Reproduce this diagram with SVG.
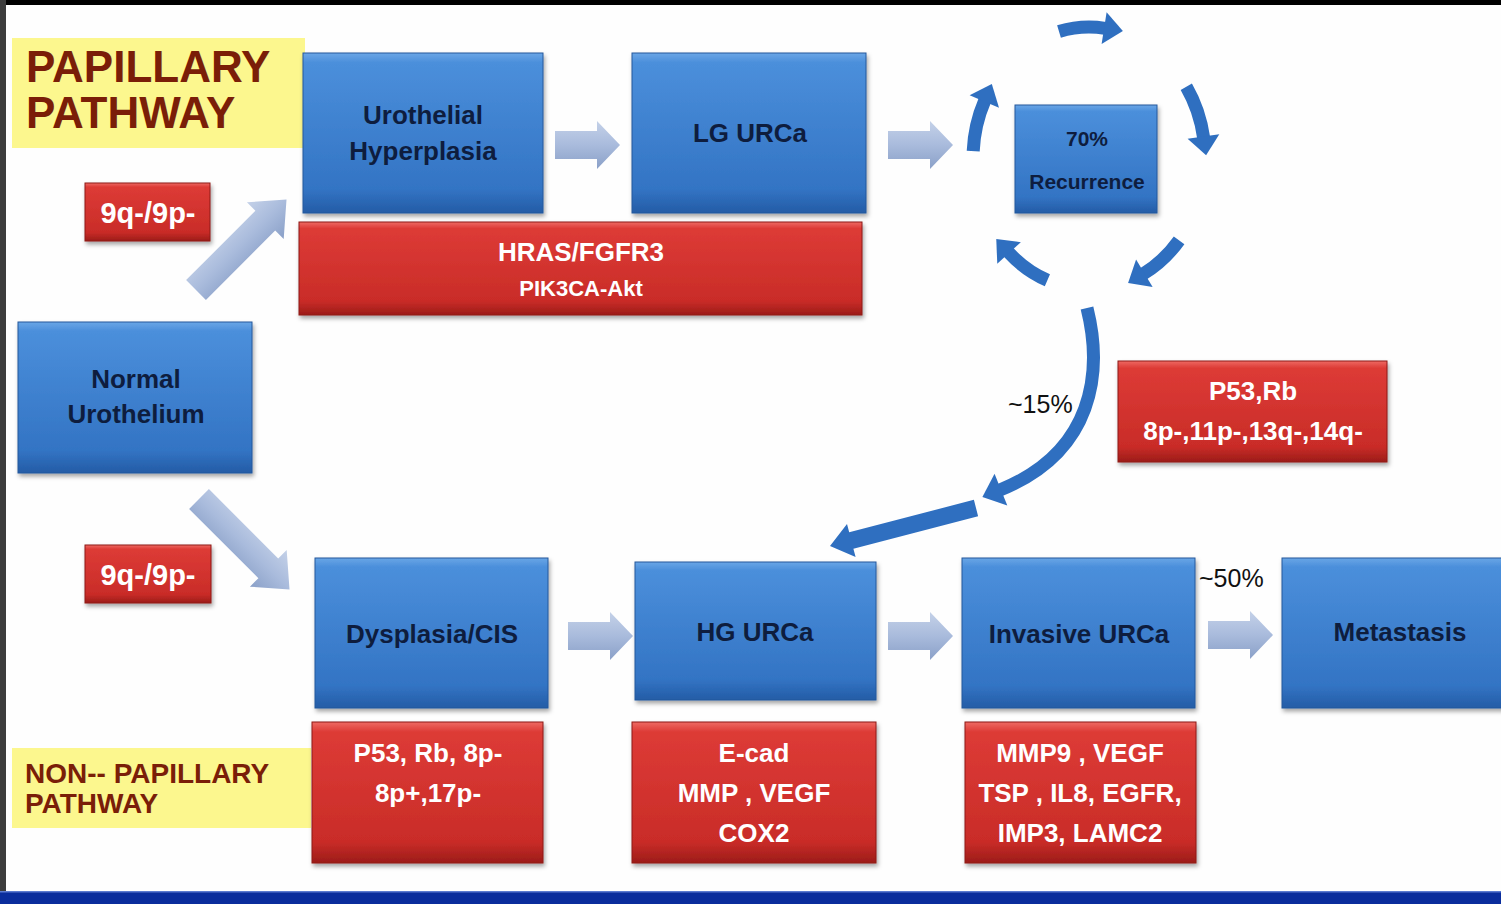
<svg xmlns="http://www.w3.org/2000/svg" width="1501" height="904" viewBox="0 0 1501 904" style="overflow:hidden">
<defs>
<linearGradient id="gBlue" x1="0" y1="0" x2="0" y2="1">
<stop offset="0" stop-color="#6aa6e6"/>
<stop offset="0.06" stop-color="#4b8fdb"/>
<stop offset="0.85" stop-color="#3374c4"/>
<stop offset="1" stop-color="#245ca6"/>
</linearGradient>
<linearGradient id="gRed" x1="0" y1="0" x2="0" y2="1">
<stop offset="0" stop-color="#ee6a63"/>
<stop offset="0.07" stop-color="#dd3b36"/>
<stop offset="0.85" stop-color="#c92c28"/>
<stop offset="1" stop-color="#9c1c18"/>
</linearGradient>
<linearGradient id="gArrow" x1="0" y1="0" x2="0" y2="1">
<stop offset="0" stop-color="#c4d1e8"/>
<stop offset="0.5" stop-color="#a9bbdc"/>
<stop offset="1" stop-color="#8aa0c8"/>
</linearGradient>
<filter id="shadow" x="-10%" y="-10%" width="125%" height="130%">
<feDropShadow dx="1.5" dy="3" stdDeviation="2" flood-color="#000" flood-opacity="0.35"/>
</filter>
<clipPath id="page"><rect x="0" y="0" width="1501" height="904"/></clipPath>
<marker id="headCycle" markerUnits="userSpaceOnUse" markerWidth="22" markerHeight="32" refX="1" refY="16" orient="auto" overflow="visible">
<path d="M0,0 L19,16 L0,32 Z" fill="#2f6fc0"/>
</marker>
<marker id="headCurve" markerUnits="userSpaceOnUse" markerWidth="22" markerHeight="34" refX="1" refY="17" orient="auto" overflow="visible">
<path d="M0,0 L20,17 L0,34 Z" fill="#2f6fc0"/>
</marker>
<path id="arrowH" d="M0,-14 H42 V-24 L65,0 L42,24 V14 H0 Z"/>
<path id="arrowD" d="M0,-14 H98 V-26 L128,0 L98,26 V14 H0 Z"/>
</defs>
<style>
.blue rect{fill:url(#gBlue);stroke:#24589c;stroke-width:1;filter:url(#shadow)}
.red rect{fill:url(#gRed);stroke:#8e1a16;stroke-width:1;filter:url(#shadow)}
.yellow rect{fill:#fcf78e}
.bt{font-family:"Liberation Sans",Arial,sans-serif;font-weight:bold;font-size:26px;fill:#0e1d3e;text-anchor:middle}
.rt{font-family:"Liberation Sans",Arial,sans-serif;font-weight:bold;font-size:26px;fill:#ffffff;text-anchor:middle}
.yt{font-family:"Liberation Sans",Arial,sans-serif;font-weight:bold;fill:#7a1e08}
.pct{font-family:"Liberation Sans",Arial,sans-serif;font-size:25px;fill:#111111}
.fat{fill:url(#gArrow)}
.cyc{fill:none;stroke:#2f6fc0;stroke-width:13;marker-end:url(#headCycle)}
.sm{font-size:21px}
.gene9{font-size:29px}
.akt{font-size:22px}
.big{font-size:44px}
.mid{font-size:28px}
</style>

<g clip-path="url(#page)">
<rect x="0" y="0" width="1501" height="904" fill="#fefefe"/>
<rect x="0" y="0" width="1501" height="5" fill="#000000"/>
<rect x="0" y="0" width="6" height="892" fill="#3c3c3c"/>
<rect x="0" y="892" width="1501" height="12" fill="#0a2d9c"/>
<rect x="0" y="891" width="1501" height="1.5" fill="#5b7bd0"/>

<g id="connectors">
<use href="#arrowD" class="fat" transform="translate(196,290) rotate(-45)"/>
<use href="#arrowD" class="fat" transform="translate(199,499) rotate(45)"/>
<use href="#arrowH" class="fat" transform="translate(555,145)"/>
<use href="#arrowH" class="fat" transform="translate(888,145)"/>
<use href="#arrowH" class="fat" transform="translate(568,636)"/>
<use href="#arrowH" class="fat" transform="translate(888,636)"/>
<use href="#arrowH" class="fat" transform="translate(1208,635)"/>
<path class="cyc" d="M1059,31.5 A116 131 0 0 1 1105.1,28.3"/>
<path class="cyc" d="M1186.3,86.7 A116 131 0 0 1 1203.6,137.5"/>
<path class="cyc" d="M1179.1,240.4 A116 131 0 0 1 1143.5,273.7"/>
<path class="cyc" d="M1047.4,280.3 A116 131 0 0 1 1008.4,252.2"/>
<path class="cyc" d="M973.2,151.1 A116 131 0 0 1 984.7,100.6"/>
<path d="M1087,308 C1103,372 1094,452 1000,490" fill="none" stroke="#2f6fc0" stroke-width="13" marker-end="url(#headCurve)"/>
<polygon points="973.9,499.8 849.2,532.3 847,524 830,546 855.6,557 853.4,548.7 978.1,516.2" fill="#2f6fc0"/>
<text class="pct" x="1008" y="413">~15%</text>
<text class="pct" x="1199" y="587">~50%</text>
</g>

<g id="title-papillary" class="yellow">
<rect x="12" y="38" width="293" height="110"/>
<text class="yt big" x="26" y="82">PAPILLARY</text>
<text class="yt big" x="26" y="128">PATHWAY</text>
</g>

<g id="title-nonpapillary" class="yellow">
<rect x="12" y="748" width="299" height="80"/>
<text class="yt mid" x="25" y="783">NON-- PAPILLARY</text>
<text class="yt mid" x="25" y="813">PATHWAY</text>
</g>

<g id="node-normal" class="blue">
<rect x="18" y="322" width="234" height="151"/>
<text class="bt" x="136" y="388">Normal</text>
<text class="bt" x="136" y="423">Urothelium</text>
</g>

<g id="node-hyperplasia" class="blue">
<rect x="303" y="53" width="240" height="160"/>
<text class="bt" x="423" y="124">Urothelial</text>
<text class="bt" x="423" y="160">Hyperplasia</text>
</g>

<g id="node-lgurca" class="blue">
<rect x="632" y="53" width="234" height="160"/>
<text class="bt" x="750" y="142">LG URCa</text>
</g>

<g id="node-recurrence" class="blue">
<rect x="1015" y="105" width="142" height="108"/>
<text class="bt sm" x="1087" y="146">70%</text>
<text class="bt sm" x="1087" y="189">Recurrence</text>
</g>

<g id="node-dysplasia" class="blue">
<rect x="315" y="558" width="233" height="150"/>
<text class="bt" x="432" y="643">Dysplasia/CIS</text>
</g>

<g id="node-hgurca" class="blue">
<rect x="635" y="562" width="241" height="138"/>
<text class="bt" x="755" y="641">HG URCa</text>
</g>

<g id="node-invasive" class="blue">
<rect x="962" y="558" width="233" height="150"/>
<text class="bt" x="1079" y="643">Invasive URCa</text>
</g>

<g id="node-metastasis" class="blue">
<rect x="1282" y="558" width="230" height="150"/>
<text class="bt" x="1400" y="641">Metastasis</text>
</g>

<g id="label-9q-top" class="red">
<rect x="85" y="183" width="125" height="58"/>
<text class="rt gene9" x="148" y="223">9q-/9p-</text>
</g>

<g id="label-9q-bottom" class="red">
<rect x="85" y="545" width="126" height="58"/>
<text class="rt gene9" x="148" y="585">9q-/9p-</text>
</g>

<g id="label-hras" class="red">
<rect x="299" y="222" width="563" height="93"/>
<text class="rt" x="581" y="261">HRAS/FGFR3</text>
<text class="rt akt" x="581" y="296">PIK3CA-Akt</text>
</g>

<g id="label-p53rb" class="red">
<rect x="1118" y="361" width="269" height="101"/>
<text class="rt" x="1253" y="400">P53,Rb</text>
<text class="rt" x="1253" y="440">8p-,11p-,13q-,14q-</text>
</g>

<g id="label-dysplasia-genes" class="red">
<rect x="312" y="722" width="231" height="141"/>
<text class="rt" x="428" y="762">P53, Rb, 8p-</text>
<text class="rt" x="428" y="802">8p+,17p-</text>
</g>

<g id="label-hg-genes" class="red">
<rect x="632" y="722" width="244" height="141"/>
<text class="rt" x="754" y="762">E-cad</text>
<text class="rt" x="754" y="802">MMP , VEGF</text>
<text class="rt" x="754" y="842">COX2</text>
</g>

<g id="label-invasive-genes" class="red">
<rect x="965" y="722" width="231" height="141"/>
<text class="rt" x="1080" y="762">MMP9 , VEGF</text>
<text class="rt" x="1080" y="802">TSP , IL8, EGFR,</text>
<text class="rt" x="1080" y="842">IMP3, LAMC2</text>
</g>
</g>
</svg>
